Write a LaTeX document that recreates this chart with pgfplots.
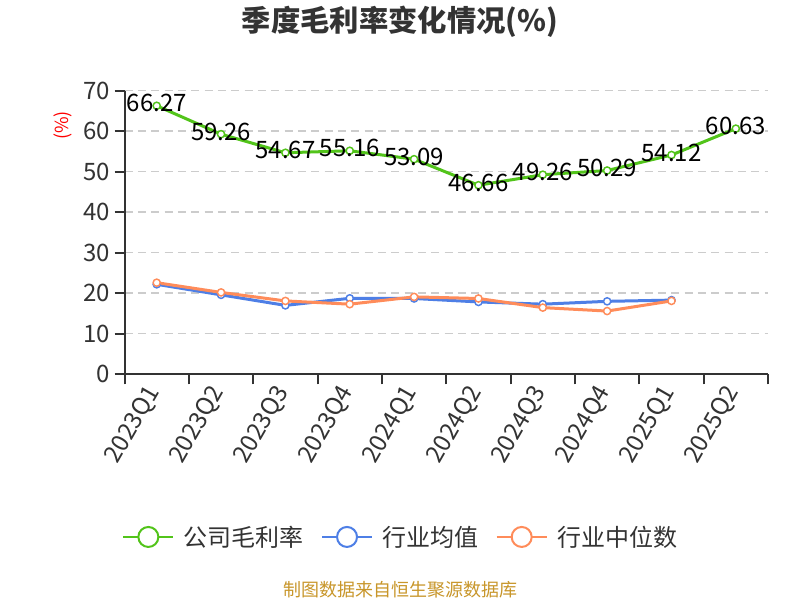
\documentclass[border=0pt]{standalone}
\usepackage{fontspec}
\setmainfont{Noto Sans CJK SC}
\usepackage{pgfplots}
\pgfplotsset{compat=1.18}
\definecolor{cgreen}{HTML}{52C41A}
\definecolor{cblue}{HTML}{4E7FE6}
\definecolor{corange}{HTML}{FF8C5A}
\definecolor{ctext}{HTML}{333333}
\definecolor{cgrid}{HTML}{CCCCCC}
\definecolor{csrc}{HTML}{C8962A}
\begin{document}
\begin{tikzpicture}
% 800x600 px canvas, 1px = 0.75pt
\path[fill=white] (0,0) rectangle (600pt,450pt);
\node[font=\bfseries\fontsize{22pt}{26pt}\selectfont, text=ctext] at (300pt,433.5pt) {季度毛利率变化情况(\%)};
\node[rotate=90, text=red, font=\fontsize{13.5pt}{15pt}\selectfont] at (47pt,356pt) {(\%)};
\node[text=csrc, font=\fontsize{13.5pt}{16pt}\selectfont] at (300pt,7.5pt) {制图数据来自恒生聚源数据库};
\begin{axis}[
  at={(93.4pt,169.3pt)}, anchor=south west,
  scale only axis, width=482.6pt, height=212.7pt,
  xmin=-0.5, xmax=9.5, ymin=0, ymax=70,
  clip=false,
  axis x line*=bottom, axis y line*=left,
  axis line style={ctext, line width=1.5pt},
  xtick={0,...,9},
  xticklabels={2023Q1,2023Q2,2023Q3,2023Q4,2024Q1,2024Q2,2024Q3,2024Q4,2025Q1,2025Q2},
  minor xtick={-0.5,0.5,...,9.5},
  ytick={0,10,...,70},
  tick align=outside,
  major tick length=7.5pt, minor tick length=7.5pt,
  tick style={ctext, line width=1.5pt},
  major x tick style={draw=none},
  ymajorgrids,
  major grid style={cgrid, line width=1.1pt, dash pattern=on 6pt off 4pt},
  ticklabel style={font=\fontsize{18pt}{20pt}\selectfont, text=ctext},
  /pgf/number format/assume math mode=true,
  xticklabel style={rotate=60, anchor=east},
  legend style={at={(axis description cs:0.4297,-0.5737)}, anchor=center,
    draw=none, fill=none, font=\fontsize{18pt}{20pt}\selectfont, text=ctext,
    /tikz/every odd column/.append style={column sep=5pt},
    /tikz/every even column/.append style={column sep=11pt}},
  legend columns=3,
  legend cell align=left,
]
\addplot[cgreen, line width=2.25pt, mark=*, mark size=2.7pt,
  mark options={fill=white, line width=1.1pt},
  point meta=explicit symbolic, nodes near coords,
  every node near coord/.append style={anchor=center, yshift=1.8pt, text=black,
    font=\fontsize{18pt}{20pt}\selectfont},
  legend image code/.code={
    \draw[cgreen, line width=1.5pt] (0pt,0pt) -- (37.5pt,0pt);
    \draw[cgreen, line width=1.5pt, fill=white] (18.75pt,0pt) circle (7.5pt);}]
  coordinates {
  (0,66.27) [66.27]
  (1,59.26) [59.26]
  (2,54.67) [54.67]
  (3,55.16) [55.16]
  (4,53.09) [53.09]
  (5,46.66) [46.66]
  (6,49.26) [49.26]
  (7,50.29) [50.29]
  (8,54.12) [54.12]
  (9,60.63) [60.63]
  };
\addlegendentry{公司毛利率}
\addplot[cblue, line width=2.25pt, mark=*, mark size=2.7pt,
  mark options={fill=white, line width=1.1pt},
  legend image code/.code={
    \draw[cblue, line width=1.5pt] (0pt,0pt) -- (37.5pt,0pt);
    \draw[cblue, line width=1.5pt, fill=white] (18.75pt,0pt) circle (7.5pt);}]
  coordinates {
  (0,22.2) (1,19.6) (2,17.0) (3,18.75) (4,18.7)
  (5,17.85) (6,17.3) (7,18.0) (8,18.3)
  };
\addlegendentry{行业均值}
\addplot[corange, line width=2.25pt, mark=*, mark size=2.7pt,
  mark options={fill=white, line width=1.1pt},
  legend image code/.code={
    \draw[corange, line width=1.5pt] (0pt,0pt) -- (37.5pt,0pt);
    \draw[corange, line width=1.5pt, fill=white] (18.75pt,0pt) circle (7.5pt);}]
  coordinates {
  (0,22.6) (1,20.2) (2,18.1) (3,17.3) (4,19.1)
  (5,18.7) (6,16.45) (7,15.6) (8,18.1)
  };
\addlegendentry{行业中位数}
\end{axis}
\end{tikzpicture}
\end{document}
